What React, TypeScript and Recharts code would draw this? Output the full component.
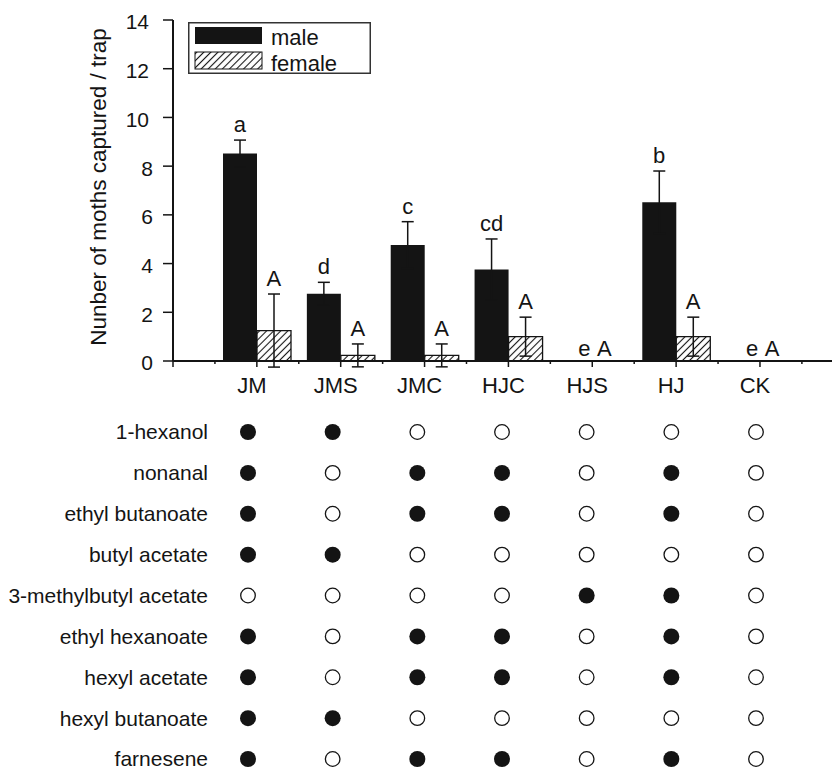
import { ComposedChart, Bar, Scatter, XAxis, YAxis, ErrorBar, Legend, ScatterChart } from 'recharts';

const blends = ['JM', 'JMS', 'JMC', 'HJC', 'HJS', 'HJ', 'CK'];
const maleMeans = [8.52, 2.76, 4.76, 3.76, 0, 6.52, 0];
const maleSE = [0.55, 0.47, 0.96, 1.25, 0, 1.28, 0];
const femaleMeans = [1.25, 0.23, 0.23, 1.0, 0, 1.0, 0];
const femaleSE = [1.5, 0.47, 0.47, 0.8, 0, 0.8, 0];
const maleLetters = ['a', 'd', 'c', 'cd', 'e', 'b', 'e'];
const femaleLetters = ['A', 'A', 'A', 'A', 'A', 'A', 'A'];
const yTicks = [0, 2, 4, 6, 8, 10, 12, 14];

const compounds = [
  '1-hexanol',
  'nonanal',
  'ethyl butanoate',
  'butyl acetate',
  '3-methylbutyl acetate',
  'ethyl hexanoate',
  'hexyl acetate',
  'hexyl butanoate',
  'farnesene',
];

// rows = compounds, columns = blends; 1 = compound is in the blend
const composition = [
  [1, 1, 0, 0, 0, 0, 0],
  [1, 0, 1, 1, 0, 1, 0],
  [1, 0, 1, 1, 0, 1, 0],
  [1, 1, 0, 0, 0, 0, 0],
  [0, 0, 0, 0, 1, 1, 0],
  [1, 0, 1, 1, 0, 1, 0],
  [1, 0, 1, 1, 0, 1, 0],
  [1, 1, 0, 0, 0, 0, 0],
  [1, 0, 1, 1, 0, 1, 0],
];

const INK = '#141414';
const FONT = '"Liberation Sans", Arial, Helvetica, sans-serif';

const barData = blends.map((name, i) => ({
  name,
  slot: i + 1,
  male: maleMeans[i],
  maleErr: maleSE[i],
  maleTop: maleMeans[i] + maleSE[i],
  maleLetter: maleLetters[i],
  female: femaleMeans[i],
  femaleErr: femaleSE[i],
  femaleTop: femaleMeans[i] + femaleSE[i],
  femaleLetter: femaleLetters[i],
}));

const dots = compounds.flatMap((_, row) =>
  blends.map((_, col) => ({ row, col, present: composition[row][col] === 1 }))
);
const presentDots = dots.filter(d => d.present);
const absentDots = dots.filter(d => !d.present);

// tick every half slot: whole numbers sit under the groups, halves between them
const gridTicks = Array.from({ length: blends.length * 2 + 2 }, (_, i) => i / 2);

const seriesOrder = ['male', 'female'];
const seriesFill: Record<string, string> = { male: INK, female: 'url(#femaleHatch)' };

function GridTick(props: any) {
  const { x, y, payload } = props;
  const v = payload.value;
  const major = Number.isInteger(v);
  const label = major && v >= 1 ? blends[v - 1] : '';
  return (
    <g>
      <line x1={x} x2={x} y1={y} y2={y + (major ? 6 : 3)} stroke={INK} strokeWidth={1.5} />
      {label && (
        <text x={x - 5} y={y + 32} textAnchor="middle" fontSize={22} fill={INK}>
          {label}
        </text>
      )}
    </g>
  );
}

function CountTick(props: any) {
  const { x, y, payload } = props;
  const wide = String(payload.value).length > 1;
  return (
    <text x={x - (wide ? 4 : 0)} y={y + 2} dy="0.355em" textAnchor="end" fontSize={21} fill={INK}>
      {payload.value}
    </text>
  );
}

// letter over a bar: sits above the error cap, or just over the axis when the bar is empty
function letterShape(letterKey: string, meanKey: string, side: number, emptyShift: number) {
  return (p: any) => {
    const d = p.payload;
    const empty = d[meanKey] === 0;
    const x = p.cx + side * 17 + (empty ? emptyShift : 0);
    return (
      <text x={x} y={p.cy - (empty ? 5 : 8)} textAnchor="middle" fontSize={22} fill={INK}>
        {d[letterKey]}
      </text>
    );
  };
}

function LegendBox(props: any) {
  const payload = (props.payload || [])
    .filter((e: any) => seriesOrder.includes(e.dataKey))
    .sort((a: any, b: any) => seriesOrder.indexOf(a.dataKey) - seriesOrder.indexOf(b.dataKey));
  return (
    <svg width={183} height={58} style={{ display: 'block', overflow: 'visible', fontFamily: FONT }}>
      <rect x={0.75} y={0.75} width={181.5} height={50.5} fill="#fff" stroke="#333" strokeWidth={1.5} />
      {payload.map((entry: any, i: number) => (
        <g key={entry.dataKey}>
          <rect
            x={7}
            y={5 + i * 25}
            width={67}
            height={17}
            fill={seriesFill[entry.dataKey]}
            stroke={INK}
            strokeWidth={i ? 1 : 0}
          />
          <text x={83} y={23 + i * 26} fontSize={22} fill={INK}>
            {entry.value}
          </text>
        </g>
      ))}
    </svg>
  );
}

function YTitle() {
  return (
    <text transform="translate(106,187) rotate(-90)" textAnchor="middle" fontSize={22.5} fill={INK}>
      Nunber of moths captured / trap
    </text>
  );
}

export default function App() {
  return (
    <div style={{ position: 'absolute', left: 0, top: 0, width: 833, height: 770, background: '#fff', fontFamily: FONT }}>
      <svg width={0} height={0} style={{ position: 'absolute' }}>
        <defs>
          <pattern id="femaleHatch" patternUnits="userSpaceOnUse" width={5} height={5} patternTransform="rotate(45)">
            <rect width={5} height={5} fill="#fff" />
            <line x1={2.5} y1={0} x2={2.5} y2={5} stroke={INK} strokeWidth={1.1} />
          </pattern>
        </defs>
      </svg>

      <ComposedChart
        width={833}
        height={401}
        data={barData}
        margin={{ top: 20, right: 1, bottom: 0, left: 0 }}
        barGap={0}
        barSize={34}
      >
        <XAxis
          xAxisId="grid"
          dataKey="slot"
          type="number"
          domain={[0, 7.859]}
          allowDataOverflow
          ticks={gridTicks}
          interval={0}
          height={40}
          tickLine={false}
          tickSize={0}
          tickMargin={0}
          axisLine={{ stroke: INK, strokeWidth: 2 }}
          tick={<GridTick />}
        />
        <XAxis xAxisId="cat" dataKey="name" type="category" hide height={0} padding={{ left: 42, right: 30 }} />
        <YAxis
          type="number"
          domain={[0, 14]}
          allowDataOverflow
          ticks={yTicks}
          interval={0}
          width={173}
          tickSize={10}
          tickMargin={10}
          axisLine={{ stroke: INK, strokeWidth: 2 }}
          tickLine={{ stroke: INK, strokeWidth: 1.5 }}
          tick={<CountTick />}
          label={YTitle}
        />
        <Legend
          layout="vertical"
          align="center"
          verticalAlign="middle"
          content={LegendBox}
          wrapperStyle={{ left: 188, top: 22, width: 183, height: 52 }}
        />
        <Bar xAxisId="cat" dataKey="male" name="male" fill={INK} isAnimationActive={false}>
          <ErrorBar dataKey="maleErr" width={6} stroke={INK} strokeWidth={1.5} direction="y" />
        </Bar>
        <Bar
          xAxisId="cat"
          dataKey="female"
          name="female"
          fill="url(#femaleHatch)"
          stroke={INK}
          strokeWidth={1.3}
          isAnimationActive={false}
        >
          <ErrorBar dataKey="femaleErr" width={6} stroke={INK} strokeWidth={1.5} direction="y" />
        </Bar>
        <Scatter
          xAxisId="cat"
          dataKey="maleTop"
          legendType="none"
          isAnimationActive={false}
          shape={letterShape('maleLetter', 'male', -1, 9)}
        />
        <Scatter
          xAxisId="cat"
          dataKey="femaleTop"
          legendType="none"
          isAnimationActive={false}
          shape={letterShape('femaleLetter', 'female', 1, -5)}
        />
      </ComposedChart>

      <ScatterChart width={833} height={369} margin={{ top: 31, right: 77, bottom: 11, left: 0 }}>
        <XAxis type="number" dataKey="col" domain={[0, blends.length - 1]} hide />
        <YAxis
          type="number"
          dataKey="row"
          domain={[0, compounds.length - 1]}
          reversed
          ticks={compounds.map((_, i) => i)}
          interval={0}
          width={248}
          axisLine={false}
          tickLine={false}
          tickSize={0}
          tickMargin={40}
          tickFormatter={(i: number) => compounds[i]}
          tick={{ fill: INK, fontSize: 21 }}
        />
        <Scatter
          data={presentDots}
          isAnimationActive={false}
          shape={(p: any) => <circle cx={p.cx} cy={p.cy} r={8} fill={INK} />}
        />
        <Scatter
          data={absentDots}
          isAnimationActive={false}
          shape={(p: any) => <circle cx={p.cx} cy={p.cy} r={7.3} fill="#fff" stroke={INK} strokeWidth={1.3} />}
        />
      </ScatterChart>
    </div>
  );
}
